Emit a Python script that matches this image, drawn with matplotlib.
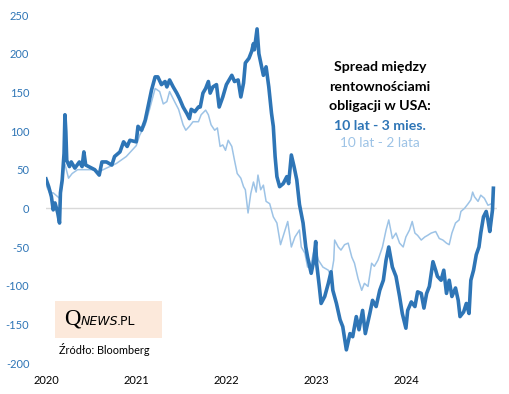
import matplotlib
matplotlib.use("Agg")
import matplotlib.pyplot as plt
from matplotlib.patches import Rectangle

# ---- data (decimal year, basis points) ----
t_3m = [2020.00, 2020.03, 2020.06, 2020.08, 2020.10, 2020.13, 2020.15, 2020.16, 2020.18, 2020.20,
        2020.21, 2020.22, 2020.23, 2020.26, 2020.28, 2020.32, 2020.37, 2020.40, 2020.42, 2020.44,
        2020.49, 2020.54, 2020.59, 2020.62, 2020.67, 2020.73, 2020.76, 2020.82, 2020.86, 2020.90,
        2020.93, 2021.00, 2021.02, 2021.06, 2021.10, 2021.13, 2021.17, 2021.21, 2021.24, 2021.28,
        2021.32, 2021.34, 2021.37, 2021.41, 2021.45, 2021.48, 2021.52, 2021.56, 2021.59, 2021.61,
        2021.65, 2021.69, 2021.71, 2021.74, 2021.77, 2021.80, 2021.82, 2021.85, 2021.89, 2021.92,
        2021.96, 2022.00, 2022.03, 2022.06, 2022.09, 2022.13, 2022.16, 2022.19, 2022.21, 2022.25,
        2022.28, 2022.30, 2022.31, 2022.34, 2022.36, 2022.39, 2022.41, 2022.44, 2022.47, 2022.50,
        2022.52, 2022.54, 2022.56, 2022.59, 2022.63, 2022.67, 2022.69, 2022.72, 2022.75, 2022.78,
        2022.81, 2022.85, 2022.88, 2022.90, 2022.94, 2022.97, 2022.99, 2023.00, 2023.03, 2023.05,
        2023.09, 2023.13, 2023.16, 2023.18, 2023.22, 2023.26, 2023.29, 2023.33, 2023.37, 2023.40,
        2023.44, 2023.47, 2023.51, 2023.54, 2023.59, 2023.62, 2023.66, 2023.70, 2023.74, 2023.77,
        2023.80, 2023.84, 2023.88, 2023.92, 2023.95, 2023.99, 2024.01, 2024.05, 2024.09, 2024.12,
        2024.16, 2024.19, 2024.22, 2024.25, 2024.29, 2024.32, 2024.34, 2024.38, 2024.41, 2024.44,
        2024.47, 2024.50, 2024.54, 2024.57, 2024.59, 2024.63, 2024.66, 2024.69, 2024.71, 2024.74,
        2024.77, 2024.80, 2024.82, 2024.85, 2024.88, 2024.90, 2024.92, 2024.95, 2024.96]
spread_10y3m = [38, 28, 15, -2, 7, -6, -19, 20, 37, 71,
                121, 99, 62, 54, 60, 52, 60, 54, 73, 56,
                53, 50, 43, 60, 60, 56, 67, 73, 86, 80,
                88, 86, 106, 101, 114, 131, 153, 170, 170, 160,
                164, 157, 166, 157, 149, 142, 131, 123, 116, 128,
                125, 131, 131, 149, 155, 164, 149, 157, 160, 131,
                144, 160, 166, 172, 164, 166, 144, 162, 188, 194,
                203, 213, 205, 232, 200, 183, 172, 183, 157, 123,
                106, 67, 41, 28, 32, 41, 32, 69, 54, 37,
                5, -19, -50, -63, -84, -67, -43, -71, -101, -123,
                -114, -97, -82, -106, -123, -144, -153, -183, -162, -166,
                -140, -157, -132, -162, -136, -119, -127, -106, -93, -67,
                -50, -76, -88, -114, -136, -155, -132, -121, -127, -108,
                -110, -129, -110, -101, -69, -80, -88, -93, -80, -110,
                -93, -114, -103, -119, -140, -134, -123, -136, -93, -80,
                -60, -50, -32, -11, -4, -15, -30, -2, 26]

t_2y = [2020.00, 2020.04, 2020.08, 2020.11, 2020.15, 2020.18, 2020.20, 2020.21, 2020.25, 2020.29,
        2020.35, 2020.43, 2020.51, 2020.58, 2020.67, 2020.78, 2020.89, 2021.00, 2021.04, 2021.10,
        2021.15, 2021.21, 2021.26, 2021.30, 2021.34, 2021.37, 2021.43, 2021.47, 2021.52, 2021.55,
        2021.59, 2021.63, 2021.69, 2021.72, 2021.77, 2021.80, 2021.83, 2021.87, 2021.90, 2021.93,
        2021.96, 2021.99, 2022.02, 2022.06, 2022.09, 2022.12, 2022.16, 2022.19, 2022.21, 2022.24,
        2022.27, 2022.30, 2022.33, 2022.35, 2022.38, 2022.41, 2022.44, 2022.48, 2022.52, 2022.56,
        2022.60, 2022.64, 2022.68, 2022.72, 2022.76, 2022.81, 2022.83, 2022.87, 2022.90, 2022.94,
        2022.98, 2023.02, 2023.07, 2023.13, 2023.16, 2023.19, 2023.20, 2023.24, 2023.27, 2023.31,
        2023.35, 2023.39, 2023.42, 2023.46, 2023.50, 2023.53, 2023.57, 2023.61, 2023.64, 2023.68,
        2023.73, 2023.77, 2023.80, 2023.84, 2023.88, 2023.92, 2023.96, 2023.99, 2024.03, 2024.06,
        2024.09, 2024.12, 2024.16, 2024.20, 2024.23, 2024.27, 2024.32, 2024.36, 2024.40, 2024.44,
        2024.47, 2024.50, 2024.54, 2024.58, 2024.60, 2024.64, 2024.68, 2024.71, 2024.73, 2024.75,
        2024.79, 2024.82, 2024.86, 2024.90, 2024.94, 2024.96]
spread_10y2y = [30, 20, 20, 17, 13, 30, 54, 57, 39, 45,
                50, 50, 50, 47, 52, 58, 67, 81, 95, 108,
                129, 155, 151, 135, 138, 151, 137, 128, 108, 101,
                106, 112, 112, 121, 127, 121, 108, 101, 104, 80,
                82, 75, 88, 80, 62, 45, 39, 28, 24, -6,
                19, 34, 21, 43, 24, 30, 9, 6, -11, -19,
                -47, -32, -17, -50, -37, -28, -50, -58, -76, -71,
                -50, -67, -76, -80, -88, -67, -41, -50, -54, -47,
                -45, -63, -71, -91, -106, -97, -101, -71, -75, -67,
                -50, -28, -15, -39, -32, -45, -50, -37, -28, -17,
                -32, -35, -41, -37, -35, -32, -30, -39, -41, -45,
                -47, -32, -19, -15, -4, 0, 6, 11, 21, 15,
                9, 17, 13, 4, 6, 19]

year_ticks = [2020, 2021, 2022, 2023, 2024]
y_ticks = [250, 200, 150, 100, 50, 0, -50, -100, -150, -200]

title_lines = ["Spread między", "rentownościami", "obligacji w USA:"]
label_3m = "10 lat - 3 mies."
label_2y = "10 lat - 2 lata"
source = "Źródło: Bloomberg"

DARK = "#2E75B6"
LIGHT = "#9DC3E6"
FONT = ["Lato", "DejaVu Sans"]

plt.rcParams["font.family"] = FONT

fig = plt.figure(figsize=(5.09, 3.94), dpi=100)
ax = fig.add_axes([46 / 509, 1 - 363 / 394, 451 / 509, 348 / 394])

ax.axhline(0, color="#D9D9D9", lw=1.0, zorder=1)
ax.plot(t_2y, spread_10y2y, color=LIGHT, lw=1.1, zorder=2)
ax.plot(t_3m, spread_10y3m, color=DARK, lw=2.6, zorder=3, solid_joinstyle="round")

ax.set_xlim(2020.0, 2025.0)
ax.set_ylim(-200, 250)
ax.set_xticks(year_ticks)
ax.set_xticklabels([str(y) for y in year_ticks])
ax.set_yticks(y_ticks)
ax.set_yticklabels([str(v) for v in y_ticks])
for s in ax.spines.values():
    s.set_visible(False)
ax.tick_params(axis="both", length=0)
ax.tick_params(axis="y", colors=DARK, labelsize=8, pad=12)
ax.tick_params(axis="x", colors="black", labelsize=8, pad=9)

# annotation text
ys = [0.830, 0.779, 0.731]
for line, y in zip(title_lines, ys):
    fig.text(0.747, y, line, ha="center", va="center", fontsize=10.2,
             fontweight="bold", color="black")
fig.text(0.747, 0.680, label_3m, ha="center", va="center", fontsize=10.2,
         fontweight="bold", color=DARK)
fig.text(0.747, 0.637, label_2y, ha="center", va="center", fontsize=9.8,
         color=LIGHT)

# logo box
fig.add_artist(Rectangle((55 / 509, 1 - 338 / 394), 107 / 509, 37 / 394,
                         transform=fig.transFigure, facecolor="#FCE9DB",
                         edgecolor="none"))
base = 1 - 325 / 394
fig.text(64 / 509, base, "Q", fontsize=16.5, family="Liberation Serif",
         color="black", ha="left", va="baseline")
fig.text(81 / 509, base, "NEWS", fontsize=9, style="italic",
         family="DejaVu Sans", color="black", ha="left", va="baseline")
fig.text(117 / 509, base, ".PL", fontsize=9, family="DejaVu Sans",
         color="black", ha="left", va="baseline")
fig.text(104 / 509, 1 - 349 / 394, source, fontsize=7.8, color="black",
         ha="center", va="center")

fig.savefig("out.png", dpi=100)
